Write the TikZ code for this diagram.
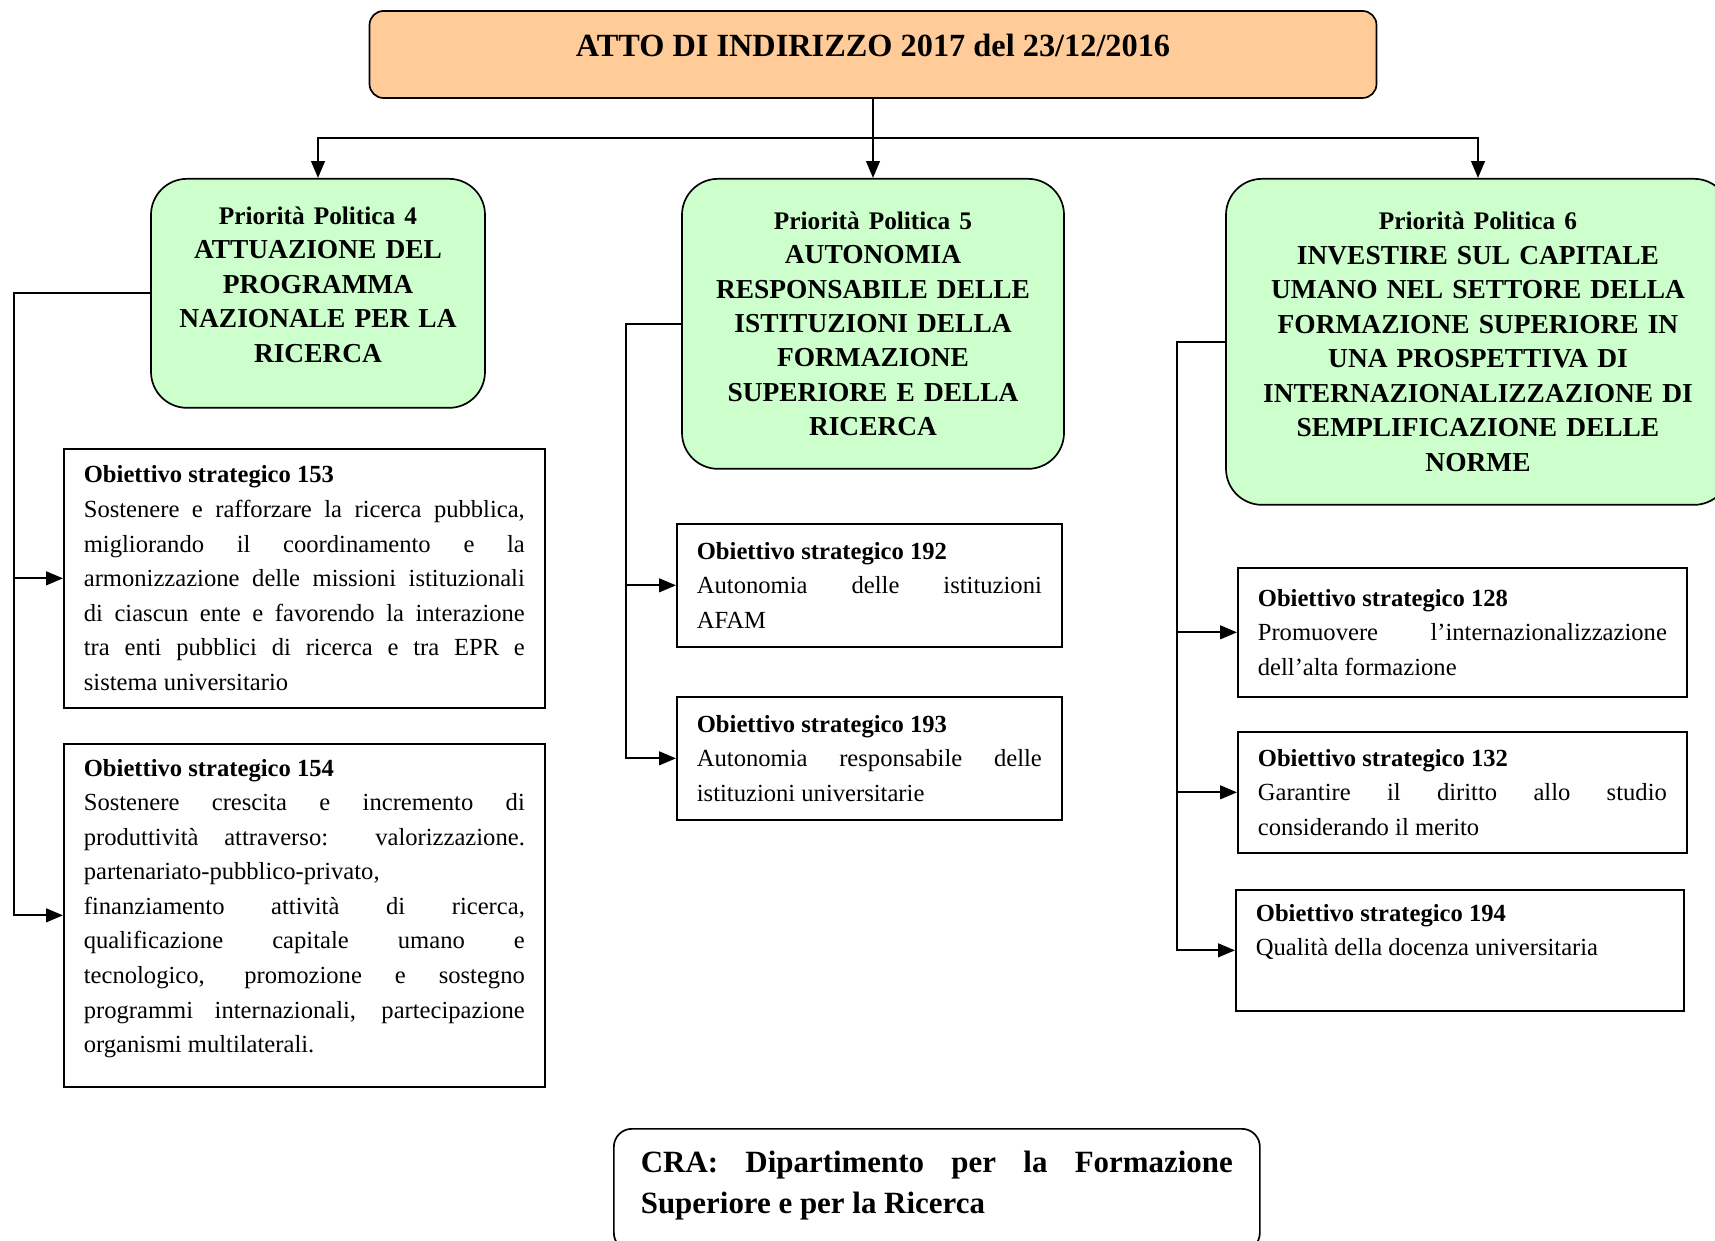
\documentclass[tikz,border=0pt]{standalone}
\usepackage{fontspec}
\setmainfont{Liberation Serif}
\usepackage{xcolor}
\usetikzlibrary{positioning,calc,arrows.meta}
\definecolor{peach}{HTML}{FFCC99}
\definecolor{mint}{HTML}{CCFFCC}

\newcommand{\pptitle}[1]{{\fontsize{18}{24.5}\selectfont #1}}

\tikzset{
  head/.style={draw, line width=1.2pt, fill=peach, rounded corners=0.35cm,
    minimum width=25.175cm, minimum height=2.175cm, text height=16pt, text depth=13pt,
    font=\bfseries\fontsize{23}{28}\selectfont},
  prio/.style={draw, line width=1.2pt, fill=mint, rounded corners=0.9cm, anchor=north,
    align=center, inner xsep=0.3cm, font=\bfseries\fontsize{19.5}{24.5}\selectfont},
  obj/.style={draw, line width=1.2pt, anchor=north west, align=justify,
    inner xsep=0.5cm, inner ysep=0.15cm, font=\fontsize{17.5}{24.6}\selectfont},
  link/.style={line width=1.4pt},
  arr/.style={line width=1.4pt, -{Triangle[length=0.42cm,width=0.34cm]}}
}

\begin{document}
\begin{tikzpicture}
    \useasboundingbox (0,0) rectangle (42.875,31);

    % Atto di indirizzo
    \node [head] (atto) at (21.825,29.6375) {ATTO DI INDIRIZZO 2017 del 23/12/2016};
    \coordinate (bar) at (21.825,27.55);

    % Priorita' politiche
    \node [prio, text width=7.75cm, minimum height=5.725cm] (pp4) at (7.95,26.55)
        {\pptitle{Priorità Politica 4}\\ATTUAZIONE DEL\\PROGRAMMA\\NAZIONALE PER LA\\RICERCA\rule[-12.5pt]{0pt}{0pt}};
    \node [prio, text width=8.95cm, minimum height=7.25cm] (pp5) at (21.825,26.55)
        {\pptitle{Priorità Politica 5}\\AUTONOMIA\\RESPONSABILE DELLE\\ISTITUZIONI DELLA\\FORMAZIONE\\SUPERIORE E DELLA\\RICERCA};
    \node [prio, text width=12cm, minimum height=8.15cm] (pp6) at (36.95,26.55)
        {\pptitle{Priorità Politica 6}\\INVESTIRE SUL CAPITALE\\UMANO NEL SETTORE DELLA\\FORMAZIONE SUPERIORE IN\\UNA PROSPETTIVA DI\\INTERNAZIONALIZZAZIONE DI\\SEMPLIFICAZIONE DELLE\\NORME};

    % Obiettivi strategici PP4
    \node [obj, text width=11.025cm, minimum height=6.475cm] (ob153) at (1.575,19.8)
        {\textbf{Obiettivo strategico 153}\\Sostenere e rafforzare la ricerca pubblica,\linebreak
         migliorando il coordinamento e la\linebreak
         armonizzazione delle missioni istituzionali\linebreak
         di ciascun ente e favorendo la interazione\linebreak
         tra enti pubblici di ricerca e tra EPR e\linebreak
         sistema universitario};
    \node [obj, text width=11.025cm, minimum height=8.575cm] (ob154) at (1.575,12.425)
        {\textbf{Obiettivo strategico 154}\\Sostenere crescita e incremento di\linebreak
         produttività attraverso: valorizzazione.\linebreak
         partenariato-pubblico-privato,\newline
         finanziamento attività di ricerca,\linebreak
         qualificazione capitale umano e\linebreak
         tecnologico, promozione e sostegno\linebreak
         programmi internazionali, partecipazione\linebreak
         organismi multilaterali.\rule[-13.5pt]{0pt}{0pt}};

    % Obiettivi strategici PP5
    \node [obj, text width=8.625cm, minimum height=3.075cm] (ob192) at (16.9,17.925)
        {\textbf{Obiettivo strategico 192}\\Autonomia delle istituzioni\linebreak AFAM};
    \node [obj, text width=8.625cm, minimum height=3.075cm] (ob193) at (16.9,13.6)
        {\textbf{Obiettivo strategico 193}\\Autonomia responsabile delle\linebreak istituzioni universitarie};

    % Obiettivi strategici PP6
    \node [obj, text width=10.225cm, minimum height=3.225cm] (ob128) at (30.925,16.825)
        {\textbf{Obiettivo strategico 128}\\Promuovere l'internazionalizzazione\linebreak dell'alta formazione};
    \node [obj, text width=10.225cm, minimum height=3.025cm] (ob132) at (30.925,12.725)
        {\textbf{Obiettivo strategico 132}\\Garantire il diritto allo studio\linebreak considerando il merito};
    \node [obj, text width=10.2cm, minimum height=3.025cm] (ob194) at (30.875,8.775)
        {\textbf{Obiettivo strategico 194}\\Qualità della docenza universitaria\rule[-29pt]{0pt}{0pt}};

    % CRA
    \node [obj, rounded corners=0.45cm, text width=14.8cm, inner xsep=0.675cm, minimum height=3.05cm,
           font=\bfseries\fontsize{22}{29}\selectfont] (cra) at (15.325,2.8)
        {CRA: Dipartimento per la Formazione\linebreak Superiore e per la Ricerca\rule[-11pt]{0pt}{0pt}};

    % Connettori
    \draw [arr] (atto.south) -- (pp5.north);
    \draw [arr] (bar) -| (pp4.north);
    \draw [arr] (bar) -| (pp6.north);

    \draw [arr] (pp4.west) -- ++(-3.4,0) |- (ob153.west);
    \draw [arr] (pp4.west) -- ++(-3.4,0) |- (ob154.west);

    \draw [arr] (pp5.west) -- ++(-1.375,0) |- (ob192.west);
    \draw [arr] (pp5.west) -- ++(-1.375,0) |- (ob193.west);

    \draw [arr] (pp6.west) -- ++(-1.2,0) |- (ob128.west);
    \draw [arr] (pp6.west) -- ++(-1.2,0) |- (ob132.west);
    \draw [arr] (pp6.west) -- ++(-1.2,0) |- (ob194.west);
\end{tikzpicture}
\end{document}
